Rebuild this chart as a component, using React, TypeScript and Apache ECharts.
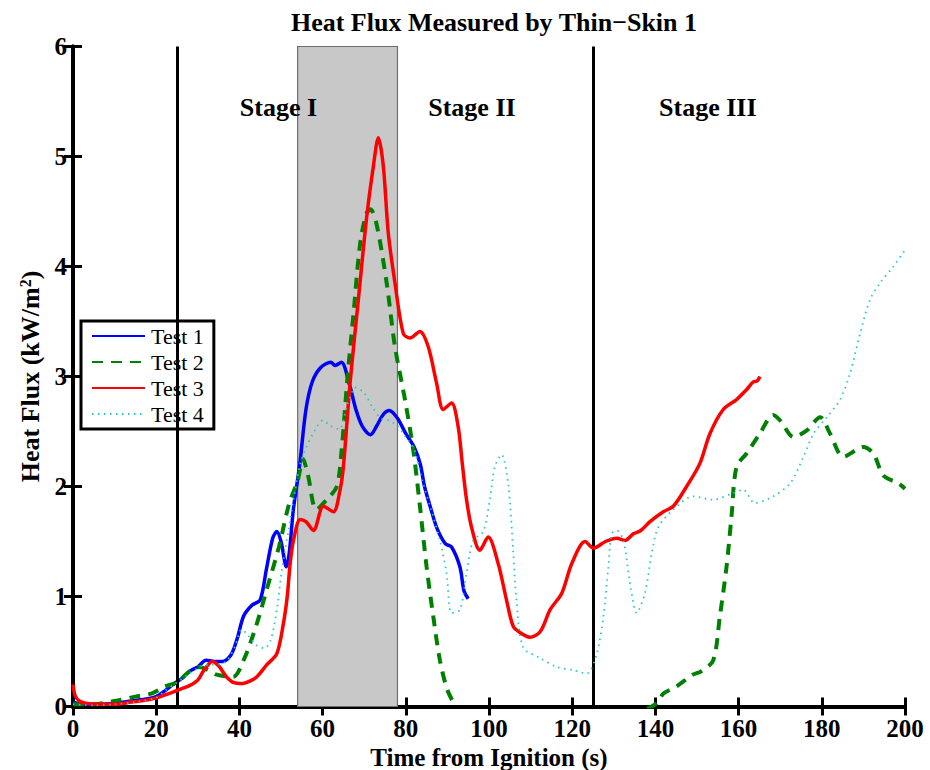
import React, { useEffect, useRef } from "react";
import * as echarts from "echarts";

const xTicks = { min: 0, max: 200, interval: 20 };
const yTicks = { min: 0, max: 6, interval: 1 };

const seriesNames = ["Test 1", "Test 2", "Test 3", "Test 4"];

const test1: (number | null)[][] = [
  [0, 0.04], [3, 0.02], [6, 0.02], [10, 0.03], [14, 0.05], [18, 0.07], [20, 0.09], [22, 0.14],
  [24, 0.2], [26, 0.25], [28, 0.32], [30, 0.36], [32, 0.42], [34, 0.41], [36, 0.41], [38, 0.47],
  [39.5, 0.62], [41, 0.82], [43, 0.92], [45, 0.97], [46.5, 1.25], [48, 1.53], [49, 1.59], [50, 1.5],
  [51.3, 1.27], [52, 1.4], [53, 1.8], [54.5, 2.2], [56, 2.7], [57.5, 2.95], [59.5, 3.08], [62, 3.13],
  [63, 3.1], [64.5, 3.13], [66.5, 2.92], [68, 2.7], [69.5, 2.55], [71.5, 2.47], [73, 2.55],
  [74.5, 2.65], [76, 2.69], [78, 2.62], [80, 2.48], [82, 2.36], [83.5, 2.2], [84.5, 2.0], [86, 1.8],
  [87.5, 1.62], [89.5, 1.48], [91, 1.45], [93, 1.27], [94, 1.05], [95, 0.98],
];

const test2: (number | null)[][] = [
  [0, 0.02], [5, 0.02], [10, 0.05], [15, 0.09], [19, 0.12], [22, 0.18], [25, 0.22], [28, 0.32],
  [30.5, 0.36], [32.5, 0.33], [34.5, 0.29], [38.5, 0.27], [41, 0.42], [44, 0.73], [47, 1.12],
  [49.5, 1.45], [52, 1.85], [54, 2.05], [55.3, 2.25], [56.5, 2.1], [58.5, 1.79], [61, 1.88],
  [63.4, 2.0], [64.5, 2.3], [66, 3.0], [67.5, 3.6], [69, 4.2], [70.5, 4.48], [71.5, 4.52], [73, 4.38],
  [75.4, 3.85], [77.4, 3.27], [79.8, 2.79], [81.8, 2.33], [83.4, 1.82], [85, 1.27], [86.6, 0.82],
  [88.2, 0.42], [90, 0.15], [92, 0.0], [93, null],
  [138, -0.02], [140.3, 0.03], [142, 0.12], [145, 0.18], [149, 0.29], [151, 0.32], [153.9, 0.42],
  [155.5, 0.82], [157.1, 1.27], [158.3, 1.73], [159.5, 2.18], [161.9, 2.3], [165.1, 2.48],
  [168.3, 2.65], [170, 2.6], [173.2, 2.45], [176.4, 2.51], [179.6, 2.63], [182, 2.48], [185.2, 2.27],
  [190, 2.36], [192.4, 2.3], [194.8, 2.1], [198.4, 2.03], [200, 1.98],
];

const test3: (number | null)[][] = [
  [0, 0.2], [0.5, 0.1], [1.5, 0.05], [3, 0.03], [6, 0.02], [10, 0.02], [14, 0.04], [18, 0.06],
  [21, 0.09], [24, 0.13], [26, 0.16], [28, 0.19], [30, 0.24], [31.5, 0.33], [33.5, 0.41], [35, 0.37],
  [36.9, 0.27], [38.5, 0.22], [40.9, 0.21], [42.5, 0.23], [44.2, 0.27], [46.6, 0.38], [49, 0.48],
  [50.6, 0.76], [51.5, 1.0], [52.2, 1.3], [53, 1.51], [54.6, 1.7], [56, 1.68], [57.8, 1.6],
  [60.2, 1.82], [62.6, 1.77], [64.2, 1.97], [65, 2.18], [66.6, 2.94], [68.6, 3.7], [70.6, 4.45],
  [72.2, 4.91], [73.4, 5.17], [74.6, 4.91], [75.8, 4.3], [77.4, 3.85], [79.4, 3.39], [81, 3.35],
  [83.4, 3.41], [85.4, 3.27], [87.4, 2.94], [89, 2.7], [91, 2.76], [92.6, 2.54], [93.6, 2.2],
  [94.6, 1.88], [95.8, 1.63], [97.8, 1.42], [99.8, 1.54], [102.2, 1.3], [104.2, 0.97], [105.8, 0.73],
  [107.5, 0.67], [109.8, 0.63], [112.3, 0.68], [114.7, 0.88], [117.5, 1.03], [119.9, 1.3],
  [123.1, 1.5], [125.1, 1.44], [128, 1.5], [130.7, 1.53], [132.7, 1.51], [134.7, 1.57], [136.5, 1.6],
  [138.7, 1.68], [141.9, 1.77], [144.3, 1.82], [147.5, 2.0], [150.7, 2.21], [153.1, 2.48],
  [156.3, 2.7], [159.5, 2.79], [161.9, 2.88], [163.5, 2.95], [164.5, 2.96], [165.1, 3.0],
];

const test4: (number | null)[][] = [
  [0, 0.02], [5, 0.01], [10, 0.02], [15, 0.04], [20, 0.08], [22, 0.14], [25, 0.22], [28, 0.3],
  [31, 0.37], [33, 0.38], [35, 0.38], [37, 0.42], [39, 0.55], [40.5, 0.7], [42, 0.65], [44, 0.56],
  [46, 0.53], [47.5, 0.6], [49, 0.88], [50.2, 1.24], [51.8, 1.6], [53, 1.88], [54.6, 2.2], [56, 2.35],
  [58, 2.5], [60, 2.6], [62, 2.55], [64, 2.52], [66, 2.75], [68, 2.9], [70, 2.85], [72, 2.72],
  [74, 2.62], [76, 2.6], [78, 2.55], [80, 2.45], [82, 2.34], [84, 2.05], [86, 1.8], [88.2, 1.51],
  [89.8, 1.21], [91, 0.85], [93, 0.88], [94.6, 1.21], [96.2, 1.51], [98.6, 1.59], [100.2, 1.88],
  [101.4, 2.18], [103, 2.29], [104.6, 2.03], [105.8, 1.42], [106.6, 0.97], [108.2, 0.54],
  [112.3, 0.44], [116.3, 0.36], [120.3, 0.33], [123.5, 0.3], [125.9, 0.48], [127.5, 0.82],
  [128.7, 1.27], [129.5, 1.57], [130.7, 1.6], [132.3, 1.51], [133.9, 1.12], [135.5, 0.85],
  [137.5, 1.03], [139.1, 1.39], [140.7, 1.63], [144.3, 1.79], [149.1, 1.91], [153.9, 1.88],
  [158.7, 1.94], [161.1, 1.97], [163.9, 1.85], [168.3, 1.91], [172.4, 2.03], [175.6, 2.27],
  [178, 2.48], [181.2, 2.63], [184.4, 2.79], [186.8, 3.03], [189.2, 3.39], [191.6, 3.7], [194, 3.85],
  [197.2, 4.0], [200, 4.15],
];

const stageBounds = [25, 125];
const shadedRange = [54, 78];
const stageLabels = [
  { name: "Stage I", value: [49.4, 5.45] },
  { name: "Stage II", value: [95.9, 5.45] },
  { name: "Stage III", value: [152.6, 5.45] },
];

const FONT = "'Liberation Serif', 'Times New Roman', serif";

export default function App() {
  const ref = useRef<HTMLDivElement>(null);
  useEffect(() => {
    if (!ref.current) return;
    const chart = echarts.init(ref.current, undefined, { renderer: "svg" });
    const axisCommon = {
      axisLine: { show: true, lineStyle: { color: "#000", width: 4 } },
      axisTick: { show: true, inside: true, length: 9, lineStyle: { color: "#000", width: 3 } },
      splitLine: { show: false },
    };
    const lineCommon = { type: "line", symbol: "none", showSymbol: false, smooth: 0.3, connectNulls: false };
    chart.setOption({
      animation: false,
      backgroundColor: "#fff",
      title: {
        text: "Heat Flux Measured by Thin\u2212Skin 1",
        left: 489,
        textAlign: "center",
        top: 4,
        textStyle: { fontFamily: FONT, fontWeight: "bold", fontSize: 26, color: "#000" },
      },
      grid: { left: 73, right: 25, top: 46.5, bottom: 63.5, containLabel: false, outerBoundsMode: "none" },
      legend: {
        data: seriesNames,
        orient: "vertical",
        left: 81,
        top: 321,
        padding: [4, 10, 4, 10],
        itemGap: 4,
        itemWidth: 53,
        itemHeight: 10,
        borderColor: "#000",
        borderWidth: 3,
        borderRadius: 0,
        backgroundColor: "#fff",
        itemStyle: { opacity: 0 },
        textStyle: { fontFamily: FONT, fontSize: 22, color: "#000", padding: [0, 0, 0, 1] },
      },
      xAxis: [
        {
          type: "value", position: "bottom", ...xTicks, ...axisCommon,
          name: "Time from Ignition (s)", nameLocation: "middle", nameGap: 17,
          nameTextStyle: { fontFamily: FONT, fontWeight: "bold", fontSize: 25, lineHeight: 25, color: "#000" },
          axisLabel: { fontFamily: FONT, fontWeight: "bold", fontSize: 25, color: "#000", margin: 9 },
        },
        { type: "value", position: "top", ...xTicks, ...axisCommon, axisLabel: { show: false } },
      ],
      yAxis: [
        {
          type: "value", position: "left", ...yTicks, ...axisCommon,
          name: "Heat Flux (kW/m{sup|2})", nameLocation: "middle", nameGap: 25,
          nameTextStyle: {
            fontFamily: FONT, fontWeight: "bold", fontSize: 26, color: "#000",
            rich: {
              sup: { fontFamily: FONT, fontWeight: "bold", fontSize: 16, color: "#000", verticalAlign: "top", padding: [0, 0, 10, 0] },
            },
          },
          axisLabel: { fontFamily: FONT, fontWeight: "bold", fontSize: 25, color: "#000", margin: 6 },
        },
        { type: "value", position: "right", ...yTicks, ...axisCommon, axisLabel: { show: false } },
      ],
      series: [
        {
          ...lineCommon, name: "Test 1", data: test1, z: 3,
          lineStyle: { color: "#0000ff", width: 3.5 }, itemStyle: { color: "#0000ff" },
          markArea: {
            silent: true,
            itemStyle: { color: "#c8c8c8", borderColor: "#6e6e6e", borderWidth: 1.2 },
            data: [[{ xAxis: shadedRange[0] }, { xAxis: shadedRange[1] }]],
          },
          markLine: {
            silent: true, symbol: ["none", "none"], label: { show: false },
            lineStyle: { color: "#000", width: 3, type: "solid" },
            data: stageBounds.map((v) => ({ xAxis: v })),
          },
        },
        {
          ...lineCommon, name: "Test 2", data: test2, z: 4,
          lineStyle: { color: "#008000", width: 4, type: [11, 8] }, itemStyle: { color: "#008000" },
        },
        {
          ...lineCommon, name: "Test 3", data: test3, z: 5,
          lineStyle: { color: "#ff0000", width: 3.5 }, itemStyle: { color: "#ff0000" },
        },
        {
          ...lineCommon, name: "Test 4", data: test4, z: 6,
          lineStyle: { color: "#22c8c8", width: 1.8, type: [1.5, 4.5] }, itemStyle: { color: "#22c8c8" },
        },
        {
          type: "scatter", name: "stages", data: stageLabels, symbolSize: 1, silent: true, z: 7,
          itemStyle: { color: "rgba(0,0,0,0)", opacity: 1 },
          label: {
            show: true, position: "inside", formatter: "{b}",
            fontFamily: FONT, fontWeight: "bold", fontSize: 26, color: "#000", opacity: 1,
          },
        },
      ],
    });
    return () => chart.dispose();
  }, []);
  return (
    <div
      ref={ref}
      style={{ position: "fixed", left: 0, top: 0, width: 930, height: 770, background: "#fff" }}
    />
  );
}
